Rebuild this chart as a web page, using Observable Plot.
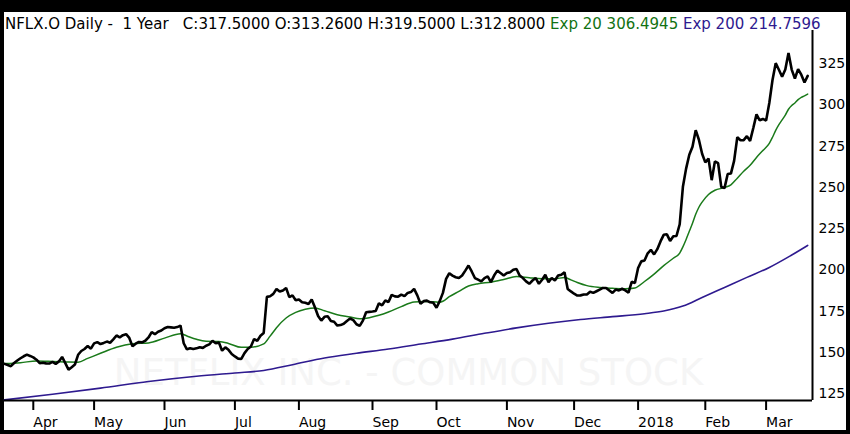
<!DOCTYPE html>
<html>
<head>
<meta charset="utf-8">
<script src="https://cdn.jsdelivr.net/npm/d3@7"></script>
<script src="https://cdn.jsdelivr.net/npm/@observablehq/plot@0.6"></script>
<style>
  html, body { margin: 0; padding: 0; background: #000; }
  #frame { position: relative; width: 850px; height: 434px; background: #000; overflow: hidden; }
  #inner { position: absolute; left: 4px; top: 12px; width: 842px; height: 418px; background: #fff; }
  #title { position: absolute; left: 5px; top: 17px; font-family: "DejaVu Sans", sans-serif; font-size: 15px; line-height: 15px; white-space: pre; color: #000; }
  #chart { position: absolute; left: 4px; top: 30px; }
</style>
</head>
<body>
<div id="frame">
  <div id="inner"></div>
  <div id="title"></div>
  <div id="chart"></div>
</div>
<script>
// ---- data (trading-day index 0 = 21 Mar 2017 ... 251 = 20 Mar 2018) ----
const prices = [
  143.0,142.3,141.6,143.5,145.0,146.4,147.6,148.6,147.8,146.9,
  145.5,143.4,143.7,143.3,143.2,144.2,143.0,144.5,147.2,143.4,
  139.5,141.0,142.6,148.5,150.8,152.0,153.8,152.2,155.4,156.2,
  155.0,155.7,156.5,155.8,157.8,160.2,159.0,160.4,161.0,158.7,
  153.6,155.2,156.3,156.0,157.0,159.0,162.2,161.0,162.5,163.2,
  164.6,165.3,165.1,164.9,165.3,166.2,155.5,151.8,152.5,152.0,
  152.4,153.1,152.7,154.0,154.8,157.0,155.5,156.0,151.0,153.0,
  151.5,149.0,147.5,146.2,146.0,149.5,152.0,153.5,158.0,157.0,
  160.0,161.7,183.6,184.0,185.4,188.4,186.8,187.5,189.0,183.4,
  184.5,181.5,182.0,180.3,180.0,179.3,182.0,177.3,172.0,169.2,
  171.5,171.8,169.0,168.5,166.2,166.5,167.3,169.0,170.5,169.5,
  167.0,166.0,169.2,174.3,174.5,174.7,175.0,179.7,178.5,181.4,
  180.5,184.8,183.9,183.7,185.0,184.0,186.0,186.5,188.4,184.5,
  179.4,181.0,181.3,180.3,180.0,177.0,181.0,186.0,194.5,197.9,
  196.5,195.5,195.0,196.5,199.5,202.6,199.0,195.0,194.0,193.0,
  195.0,196.0,192.5,196.5,199.5,198.0,196.5,198.0,198.5,200.0,
  200.5,196.5,195.0,193.0,191.5,193.5,195.0,191.5,194.0,197.0,
  192.5,195.0,193.5,196.5,197.0,198.5,188.4,186.9,185.5,184.4,
  184.5,185.0,185.0,186.7,186.0,187.0,188.0,189.0,189.0,187.5,
  186.0,188.0,187.5,188.5,187.5,186.2,192.7,192.0,201.1,205.1,
  205.6,210.0,212.1,209.3,212.5,217.2,221.2,221.5,217.5,220.3,
  220.5,227.6,250.3,261.3,269.7,274.6,284.6,278.8,270.3,265.1,
  267.4,254.3,265.7,264.6,250.1,249.5,258.0,258.3,266.0,280.3,
  278.5,278.6,281.0,278.1,285.9,294.2,290.6,291.4,290.4,301.1,
  315.0,325.2,321.2,317.0,321.4,331.4,321.3,315.9,321.6,318.2,
  313.5,317.5
];

const ema20Points = [
  [0,143.2],[5,143.7],[10,144.8],[15,144.5],[20,144.1],[23,144.0],[26,146.3],[30,149.4],
  [35,153.1],[40,155.2],[45,155.7],[50,158.6],[55,161.3],[57,159.9],[60,157.9],[63,156.7],
  [67,156.5],[70,155.4],[74,153.0],[77,153.1],[81,155.1],[83,159.8],[85,164.9],[88,170.8],
  [91,174.2],[94,176.1],[97,176.9],[100,175.2],[104,172.8],[108,171.4],[111,170.3],[114,171.0],
  [117,172.4],[120,174.4],[124,177.7],[128,180.5],[131,180.8],[134,180.7],[136,180.4],[137,180.9],
  [139,183.7],[142,186.9],[145,190.2],[148,191.6],[152,192.5],[156,194.1],[160,195.9],[164,195.2],
  [168,194.6],[172,194.6],[175,195.3],[177,193.9],[179,192.3],[182,190.4],[186,189.3],[190,188.8],
  [194,188.5],[197,189.0],[200,192.9],[203,197.4],[206,202.5],[209,207.0],[211,210.1],[212,213.9],
  [213,218.4],[214,223.3],[215,228.2],[216,233.6],[217,237.9],[218,241.0],[220,245.6],[222,248.2],
  [225,249.8],[227,251.5],[229,255.5],[231,259.7],[233,263.3],[235,268.1],[237,272.3],[239,276.6],
  [240,280.3],[241,284.5],[242,288.0],[243,290.8],[244,293.7],[245,297.3],[246,299.6],[247,301.1],
  [248,303.1],[249,304.5],[250,305.4],[251,306.5]
];

const ema200Points = [
  [0,121.2],[15,124.6],[30,128.3],[45,132.3],[60,135.5],[72,137.5],[81,139.0],[90,142.5],
  [100,146.6],[110,149.4],[120,152.0],[130,155.0],[140,158.0],[150,161.5],[160,164.8],[170,167.6],
  [180,169.9],[190,171.6],[200,173.4],[206,175.0],[212,178.0],[218,183.2],[225,189.3],[232,195.4],
  [239,201.4],[245,207.8],[251,214.76]
];

const monthIdx = [9, 28, 50, 72, 92, 115, 135, 157, 178, 198, 219, 238];
const monthLabels = ["Apr","May","Jun","Jul","Aug","Sep","Oct","Nov","Dec","2018","Feb","Mar"];
const yTicks = [125, 150, 175, 200, 225, 250, 275, 300, 325];

const titleMain = "NFLX.O Daily -  1 Year   C:317.5000 O:313.2600 H:319.5000 L:312.8000 ";
const titleEma20 = "Exp 20 306.4945";
const titleEma200 = "Exp 200 214.7596";
const watermark = "NETFLIX INC. - COMMON STOCK";

const priceColor = "#000000";
const ema20Color = "#1a7a1a";
const ema200Color = "#2e1a8f";

// ---- build ----
const t = document.getElementById("title");
t.appendChild(document.createTextNode(titleMain));
const s1 = document.createElement("span"); s1.style.color = "#127212"; s1.textContent = titleEma20; t.appendChild(s1);
t.appendChild(document.createTextNode(" "));
const s2 = document.createElement("span"); s2.style.color = ema200Color; s2.textContent = titleEma200; t.appendChild(s2);

const priceRows = prices.map((v, i) => ({i, v}));
const ema20Rows = ema20Points.map(([i, v]) => ({i, v}));
const ema200Rows = ema200Points.map(([i, v]) => ({i, v}));

const xMax = 252.5, yMin = 120.8, yMax = 345;

const chart = Plot.plot({
  width: 842,
  height: 400,
  marginLeft: 0,
  marginRight: 34,
  marginTop: 0,
  marginBottom: 30,
  x: {domain: [0, xMax], axis: null},
  y: {domain: [yMin, yMax], axis: null},
  style: {fontFamily: "DejaVu Sans, sans-serif", fontSize: "14px", color: "#000", background: "transparent", overflow: "visible"},
  marks: [
    Plot.text([watermark], {text: d => d, frameAnchor: "bottom", lineAnchor: "bottom", dy: -16, fontSize: 37, fill: "#f5f5f5"}),
    Plot.line(ema200Rows, {x: "i", y: "v", stroke: ema200Color, strokeWidth: 1.6, curve: "monotone-x"}),
    Plot.line(ema20Rows, {x: "i", y: "v", stroke: ema20Color, strokeWidth: 1.5, curve: "monotone-x"}),
    Plot.line(priceRows, {x: "i", y: "v", stroke: priceColor, strokeWidth: 2.6, strokeLinejoin: "miter"}),
    Plot.axisX({ticks: monthIdx, tickFormat: d => monthLabels[monthIdx.indexOf(d)], tickSize: 10, tickPadding: 7, textAnchor: "start", strokeWidth: 2, fontSize: 14, label: null}),
    Plot.axisY({anchor: "right", ticks: yTicks, tickSize: 0, tickPadding: 6, fontSize: 14, label: null}),
    Plot.ruleY([yMin], {stroke: "#000", strokeWidth: 2}),
    Plot.ruleX([xMax], {stroke: "#000", strokeWidth: 2})
  ]
});
document.getElementById("chart").appendChild(chart);
</script>
</body>
</html>
